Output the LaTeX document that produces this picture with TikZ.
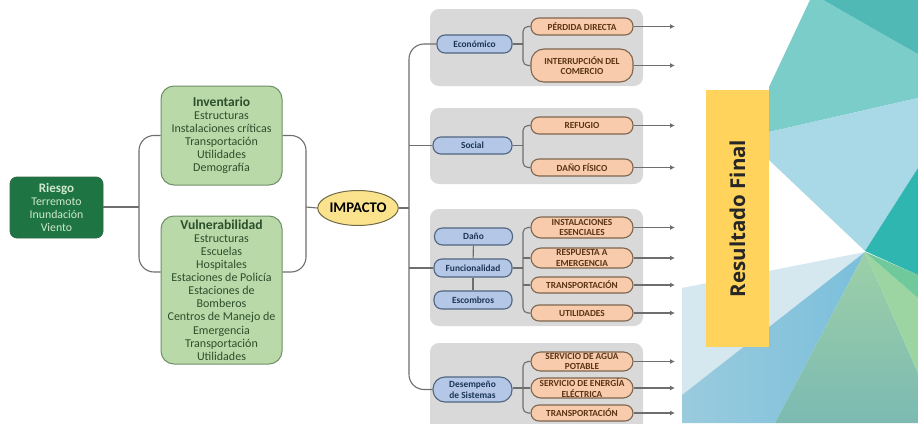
\documentclass[tikz,border=0pt]{standalone}
\usepackage{fontspec}
\setmainfont{Carlito}
\newfontfamily\headfont{Open Sans}
\usetikzlibrary{arrows.meta,shapes.geometric}
\definecolor{riskfill}{HTML}{1F7444}
\definecolor{riskedge}{HTML}{2E6B46}
\definecolor{risktext}{HTML}{CFE8CF}
\definecolor{greenfill}{HTML}{BAD9A8}
\definecolor{greenedge}{HTML}{6E8F68}
\definecolor{greentext}{HTML}{2C4F2C}
\definecolor{bluefill}{HTML}{B4C7E7}
\definecolor{blueedge}{HTML}{4F6580}
\definecolor{bluetext}{HTML}{1C3557}
\definecolor{orangefill}{HTML}{F8CBAD}
\definecolor{orangeedge}{HTML}{7D6650}
\definecolor{orangetext}{HTML}{5A3415}
\definecolor{panelfill}{HTML}{D9D9D9}
\definecolor{linkgrey}{HTML}{6E6E6E}
\definecolor{impactfill}{HTML}{FBE38E}
\definecolor{impactedge}{HTML}{6F6A45}
\definecolor{resultfill}{HTML}{FFD35C}
\definecolor{facetA}{HTML}{50B9B5}
\definecolor{facetB}{HTML}{7BCDC9}
\definecolor{facetC}{HTML}{A9D8E6}
\definecolor{facetD}{HTML}{2FB6B1}
\definecolor{facetE}{HTML}{D6E8EF}
\definecolor{facetF}{HTML}{7BBFDC}
\definecolor{facetFb}{HTML}{9ACBDD}
\definecolor{facetG}{HTML}{9DD0A8}
\definecolor{facetGb}{HTML}{7CBAB2}
\definecolor{facetH}{HTML}{9CD5A2}
\definecolor{facetI}{HTML}{70C99A}
\tikzset{
  box/.style={inner sep=0pt,align=center},
  riskbox/.style={box,fill=riskfill,draw=riskedge,line width=.8pt,rounded corners=7pt,
    minimum width=93pt,minimum height=61pt,text=risktext,font=\fontsize{11.8}{13}\selectfont},
  invbox/.style={box,fill=greenfill,draw=greenedge,line width=1pt,rounded corners=13pt,
    minimum width=121pt,text=greentext,font=\fontsize{12}{13.1}\selectfont},
  impactnode/.style={box,ellipse,fill=impactfill,draw=impactedge,line width=1pt,
    minimum width=80pt,minimum height=35pt,font=\bfseries\fontsize{14.7}{15}\selectfont},
  blueitem/.style={box,fill=bluefill,draw=blueedge,line width=1.1pt,rounded corners=8pt,
    minimum width=78pt,text=bluetext,font=\bfseries\fontsize{9.4}{11}\selectfont},
  orangeitem/.style={box,fill=orangefill,draw=orangeedge,line width=1.1pt,rounded corners=8pt,
    minimum width=102pt,text=orangetext,font=\bfseries\fontsize{9.3}{10.5}\selectfont},
  panelbox/.style={box,fill=panelfill,rounded corners=9pt,minimum width=213pt},
  resultbox/.style={box,fill=resultfill,minimum width=63pt,minimum height=257pt},
  link/.style={draw=linkgrey,line width=1.1pt},
  curved/.style={link,rounded corners=15pt},
  smallcurve/.style={link,rounded corners=5pt},
  outlink/.style={link,-{Latex[length=5pt,width=5pt]}}
}
\begin{document}
\begin{tikzpicture}[x=1pt,y=-1pt]
\useasboundingbox (0,0) rectangle (918,423);
\clip (0,0) rectangle (918,423);
\fill[white] (0,0) rectangle (918,423);

% faceted backdrop on the right
\fill[facetA] (823,0) -- (918,0) -- (918,55) -- cycle;
\fill[facetB] (810,0) -- (823,0) -- (918,54) -- (918,98) -- (769,132) -- (769,87) -- cycle;
\fill[facetC] (769,132) -- (918,98) -- (918,168) -- (865,251) -- (769,160) -- cycle;
\fill[facetD] (918,168) -- (918,275) -- (865,251) -- cycle;
\fill[facetE] (682,288) -- (865,252) -- (682,395) -- cycle;
\shade[left color=facetFb,right color=facetF] (682,395) -- (865,252) -- (775,423) -- (682,423) -- cycle;
\shade[top color=facetG,bottom color=facetGb] (865,252) -- (918,373) -- (918,423) -- (775,423) -- cycle;
\fill[facetH] (865,252) -- (918,298) -- (918,373) -- cycle;
\fill[facetI] (865,252) -- (918,275) -- (918,298) -- cycle;

% grey panels behind the impact groups
\node[panelbox,minimum height=77pt] (panelA) at (536.5,47.5) {};
\node[panelbox,minimum height=76pt] (panelB) at (536.5,146) {};
\node[panelbox,minimum height=117pt] (panelC) at (536.5,267.5) {};
\node[panelbox,minimum height=90pt] (panelD) at (536.5,388) {};

% main chain
\node[riskbox] (riesgo) at (56.5,207.5) {{\bfseries\fontsize{13}{13}\selectfont Riesgo}\\Terremoto\\Inundación\\Viento};
\node[invbox,minimum height=99pt] (inv) at (221.5,135.5) {{\bfseries\fontsize{13.5}{13.1}\selectfont Inventario}\\Estructuras\\Instalaciones críticas\\Transportación\\Utilidades\\Demografía};
\node[invbox,minimum height=148pt] (vul) at (221.5,290) {{\bfseries\fontsize{13.6}{13.1}\selectfont Vulnerabilidad}\\Estructuras\\Escuelas\\Hospitales\\Estaciones de Policía\\Estaciones de\\Bomberos\\Centros de Manejo de\\Emergencia\\Transportación\\Utilidades};
\node[impactnode] (imp) at (358,208) {IMPACTO};

% left column of each group
\node[blueitem,minimum width=75pt,minimum height=18pt] (eco) at (474.5,44) {Económico};
\node[blueitem,minimum width=79pt,minimum height=17pt] (soc) at (472.5,145.5) {Social};
\node[blueitem,minimum height=17pt] (dan) at (473.5,236.5) {Daño};
\node[blueitem,minimum height=18pt] (fun) at (473,268) {Funcionalidad};
\node[blueitem,minimum height=18pt] (esc) at (473,300) {Escombros};
\node[blueitem,minimum width=79pt,minimum height=25pt,rounded corners=12pt] (des) at (472.5,389.5) {Desempeño\\de Sistemas};

% right column of each group
\node[orangeitem,minimum height=17pt] (per) at (582,26.5) {PÉRDIDA DIRECTA};
\node[orangeitem,minimum height=33pt,rounded corners=13pt] (int) at (582,65.5) {INTERRUPCIÓN DEL\\COMERCIO};
\node[orangeitem,minimum height=17pt] (ref) at (582,125.5) {REFUGIO};
\node[orangeitem,minimum height=17pt] (fis) at (582,167.5) {DAÑO FÍSICO};
\node[orangeitem,minimum height=21pt,rounded corners=10pt] (ins) at (582,227.5) {INSTALACIONES\\ESENCIALES};
\node[orangeitem,minimum height=20pt,rounded corners=10pt] (res) at (582,258) {RESPUESTA A\\EMERGENCIA};
\node[orangeitem,minimum height=16pt] (tra) at (582,285) {TRANSPORTACIÓN};
\node[orangeitem,minimum height=16pt] (uti) at (582,313) {UTILIDADES};
\node[orangeitem,minimum height=19pt,rounded corners=9.5pt] (agu) at (582,361.5) {SERVICIO DE AGUA\\POTABLE};
\node[orangeitem,minimum height=20pt,rounded corners=10pt] (ene) at (582,388) {SERVICIO DE ENERGÍA\\ELÉCTRICA};
\node[orangeitem,minimum height=16pt] (trb) at (582,413) {TRANSPORTACIÓN};

% result banner
\node[resultbox] (fin) at (737.5,218.5) {};
\node[rotate=90,font=\headfont\bfseries\fontsize{20.5}{22}\selectfont,text=black!85] (fintxt) at (fin.center) {Resultado Final};

% bus lines
\coordinate (leftbus) at (139,207);
\coordinate (rightbus) at (306,207);
\coordinate (trunk) at (409,200);
\coordinate (busx) at (523,0);
\coordinate (outx) at (675,0);

% connectors of the main chain
\draw[link] (riesgo.east |- leftbus) -- (leftbus);
\draw[curved] (inv.west) -| (leftbus) |- ([yshift=18pt]vul.west);
\draw[curved] (inv.east) -| (rightbus) |- ([yshift=18pt]vul.east);
\draw[link] (rightbus) -- (imp.west);
\draw[link] (imp.east) -- (imp.east -| trunk);

% impact trunk
\draw[curved] (eco.west) -| (trunk) |- (des.west);
\draw[link] (soc.west) -- (soc.west -| trunk);
\draw[link] (fun.west) -- (fun.west -| trunk);

% branches inside the groups
\draw[smallcurve] (per.west) -| (busx |- eco.east) |- (int.west);
\draw[link] (eco.east) -- (eco.east -| busx);
\draw[smallcurve] (ref.west) -| (busx |- soc.east) |- (fis.west);
\draw[link] (soc.east) -- (soc.east -| busx);
\draw[link] (dan) -- (fun);
\draw[link] (fun) -- (esc);
\draw[smallcurve] (ins.west) -| (busx |- fun.east) |- (uti.west);
\draw[link] (fun.east) -- (fun.east -| busx);
\draw[link] (res.west) -- (res.west -| busx);
\draw[link] (tra.west) -- (tra.west -| busx);
\draw[smallcurve] (agu.west) -| (busx |- ene.west) |- (trb.west);
\draw[link] (des.east |- ene.west) -- (ene.west);

% outgoing arrows
\foreach \n in {per,int,ref,fis,ins,res,tra,uti,agu,ene,trb}
  \draw[outlink] (\n.east) -- (\n.east -| outx);
\end{tikzpicture}
\end{document}
